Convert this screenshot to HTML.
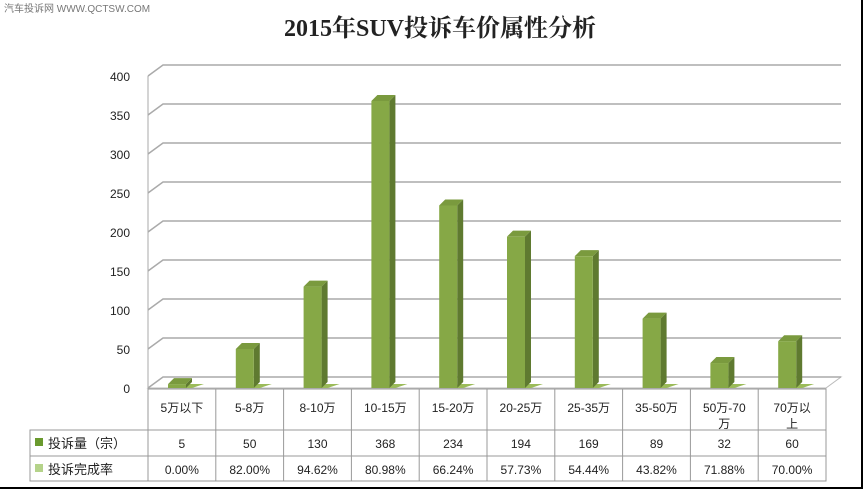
<!DOCTYPE html>
<html><head><meta charset="utf-8"><style>
body{margin:0;background:#fff;}
svg{display:block;font-family:"Liberation Sans","Noto Sans CJK SC",sans-serif;}
</style></head><body>
<svg width="865" height="491" viewBox="0 0 865 491">
<rect x="0" y="0" width="865" height="491" fill="#fff"/>
<line x1="862" y1="0" x2="862" y2="489" stroke="#000" stroke-width="2"/>
<line x1="0" y1="488" x2="863" y2="488" stroke="#000" stroke-width="2"/>
<text x="4" y="12" font-size="10" fill="#777">汽车投诉网  WWW.QCTSW.COM</text>
<text x="440" y="36" font-size="24" font-weight="bold" text-anchor="middle" fill="#222" font-family="Liberation Serif,Noto Serif CJK SC,serif">2015年SUV投诉车价属性分析</text>
<g id="grid"></g><g id="bars"></g><g id="table"></g>
</svg>
<script>
const categories=["5万以下","5-8万","8-10万","10-15万","15-20万","20-25万","25-35万","35-50万","50万-70|万","70万以|上"];
const counts=[5,50,130,368,234,194,169,89,32,60];
const rates=["0.00%","82.00%","94.62%","80.98%","66.24%","57.73%","54.44%","43.82%","71.88%","70.00%"];
const ticks=[0,50,100,150,200,250,300,350,400];
const NS="http://www.w3.org/2000/svg";
function mk(t,a,p){const e=document.createElementNS(NS,t);for(const k in a)e.setAttribute(k,a[k]);p.appendChild(e);return e;}
const x0=148,x1=826,base=388,dx=15,dy=-11,kpp=0.78;
const cw=(x1-x0)/categories.length;
const y=v=>base-v*kpp;
const G=document.getElementById('grid'),B=document.getElementById('bars'),T=document.getElementById('table');
// walls
mk('polygon',{points:`${x0},${base} ${x0+dx},${base+dy} ${x1+dx},${base+dy} ${x1},${base}`,fill:'#fff',stroke:'#bbb'},G);
mk('line',{x1:x0,y1:base,x2:x0,y2:y(400),stroke:'#aaa'},G);
ticks.forEach(t=>{
 const yy=y(t);
 const l=mk('polyline',{points:`${x0},${yy} ${x0+dx},${yy+dy} ${x1+dx},${yy+dy}`,fill:'none',stroke:'#aaa','stroke-width':1.5},G);
 
 
 const tx=mk('text',{x:130,y:yy+5,'font-size':12,'text-anchor':'end',fill:'#222'},G);
 tx.textContent=t;
 
 
});
counts.forEach((v,i)=>{
 const bx=x0+i*cw+20,bw=18,top=y(v),d=6;
 const g=mk('g',{},B);
 
 
 mk('polygon',{points:`${bx},${base} ${bx+bw+d},${base} ${bx+bw+d+12},${base-4} ${bx+bw+d+12-dx},${base-4}`,fill:'#9bbb59'},g);
 mk('polygon',{points:`${bx+bw},${top} ${bx+bw+d},${top-d} ${bx+bw+d},${base-d} ${bx+bw},${base}`,fill:'#5f7a30'},g);
 mk('polygon',{points:`${bx},${top} ${bx+d},${top-d} ${bx+bw+d},${top-d} ${bx+bw},${top}`,fill:'#7a9a3e'},g);
 mk('rect',{x:bx,y:top,width:bw,height:base-top,fill:'#86a846'},g);
});
// table
const r0=389,r1=430,r2=456,r3=481,lx=30;
mk('rect',{x:x0,y:r0,width:x1-x0,height:r3-r0,fill:'none',stroke:'#999'},T);
mk('rect',{x:lx,y:r1,width:x0-lx,height:r3-r1,fill:'none',stroke:'#999'},T);
mk('line',{x1:lx,y1:r2,x2:x1,y2:r2,stroke:'#999'},T);
mk('line',{x1:x0,y1:r1,x2:x1,y2:r1,stroke:'#999'},T);
for(let i=1;i<categories.length;i++)mk('line',{x1:x0+i*cw,y1:r0,x2:x0+i*cw,y2:r3,stroke:'#999'},T);
mk('rect',{x:35,y:438,width:8,height:8,fill:'#6a9a2e'},T);
mk('rect',{x:35,y:464,width:8,height:8,fill:'#b5d38a'},T);
const l1=mk('text',{x:48,y:448,'font-size':13,fill:'#222'},T);l1.textContent='投诉量（宗）';


const l2=mk('text',{x:48,y:474,'font-size':13,fill:'#222'},T);l2.textContent='投诉完成率';


categories.forEach((c,i)=>{
 const cx=x0+(i+0.5)*cw;
 c.split('|').forEach((s,j)=>{
  const t=mk('text',{x:cx,y:412+j*16,'font-size':12,'text-anchor':'middle',fill:'#222'},T);t.textContent=s;
  
  
 });
 const a=mk('text',{x:cx,y:448,'font-size':12,'text-anchor':'middle',fill:'#222'},T);a.textContent=counts[i];
 
 
 const b=mk('text',{x:cx,y:474,'font-size':12,'text-anchor':'middle',fill:'#222'},T);b.textContent=rates[i];
 
 
});
</script>
</body></html>
